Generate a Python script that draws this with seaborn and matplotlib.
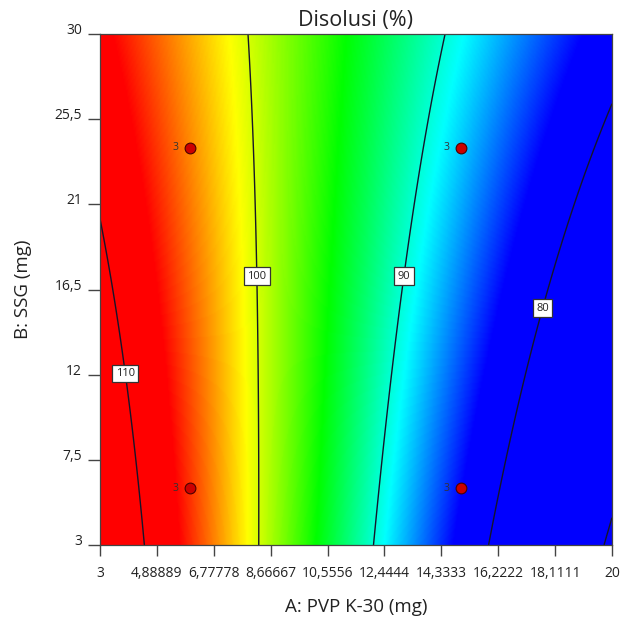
import numpy as np
import pandas as pd
import matplotlib
matplotlib.use("Agg")
import matplotlib.pyplot as plt
from matplotlib.colors import LinearSegmentedColormap, Normalize
import seaborn as sns

# ---- data ----
title = "Disolusi (%)"
x_label = "A: PVP K-30 (mg)"
y_label = "B: SSG (mg)"

x_ticks = [3, 4.88889, 6.77778, 8.66667, 10.5556, 12.4444, 14.3333, 16.2222, 18.1111, 20]
x_tick_labels = ["3", "4,88889", "6,77778", "8,66667", "10,5556", "12,4444",
                 "14,3333", "16,2222", "18,1111", "20"]
y_ticks = [3, 7.5, 12, 16.5, 21, 25.5, 30]
y_tick_labels = ["3", "7,5", "12", "16,5", "21", "25,5", "30"]

# points traced along the contour lines of the response surface
trace_level = [110, 110, 110, 100, 100, 100, 90, 90, 90, 90, 80, 80, 80, 80, 70, 70]
trace_x = [4.49, 3.86, 3.00, 8.26, 8.24, 7.93, 12.06, 13.05, 13.27, 14.43,
           15.86, 17.38, 17.92, 20.00, 19.83, 20.00]
trace_y = [3.0, 12.1, 19.75, 3.0, 17.3, 30.0, 3.0, 16.47, 18.59, 30.0,
           3.0, 13.83, 17.0, 26.25, 3.0, 4.7]

contour_levels = [70, 80, 90, 100, 110]
label_levels = [80, 90, 100, 110]
label_x = [17.62, 13.03, 8.20, 3.86]
label_y = [15.53, 17.2, 17.2, 12.1]

# design points
pt_x = [6, 6, 15, 15]
pt_y = [6, 24, 6, 24]
pt_n = ["3", "3", "3", "3"]

# colour scale anchors (response value -> colour)
color_vals = [83, 89, 95, 101, 107]
color_list = ["#0000ff", "#00ffff", "#00ff00", "#ffff00", "#ff0000"]

# ---- surface: quadratic fit through the traced contour points ----
tx = np.array(trace_x); ty = np.array(trace_y); tl = np.array(trace_level, float)
def basis(x, y):
    return np.stack([np.ones_like(x), x, y, x * y, x ** 2, y ** 2], axis=-1)
coef, *_ = np.linalg.lstsq(basis(tx, ty), tl, rcond=None)

gx = np.linspace(3, 20, 400)
gy = np.linspace(3, 30, 400)
GX, GY = np.meshgrid(gx, gy)
Z = basis(GX, GY) @ coef

# ---- plotting ----
sns.set_style("white")
plt.rcParams["font.family"] = ["Open Sans", "DejaVu Sans"]
txt = "#222222"

fig = plt.figure(figsize=(6.24, 6.27), dpi=100)
ax = fig.add_axes([100 / 624, 82 / 627, 512 / 624, 511 / 627])

lo, hi = color_vals[0], color_vals[-1]
cmap = LinearSegmentedColormap.from_list(
    "de", [((v - lo) / (hi - lo), c) for v, c in zip(color_vals, color_list)])
ax.imshow(Z, extent=[3, 20, 3, 30], origin="lower", aspect="auto",
          cmap=cmap, norm=Normalize(lo, hi), interpolation="bilinear")

cs = ax.contour(GX, GY, Z, levels=contour_levels, colors="#15152a", linewidths=1.0)

# labels placed on the drawn contour nearest to the reference label spots
for lev, lx, ly in zip(label_levels, label_x, label_y):
    idx = list(cs.levels).index(lev)
    segs = [s for s in cs.allsegs[idx] if len(s)]
    best = None
    for s in segs:
        d = (s[:, 0] - lx) ** 2 + ((s[:, 1] - ly) * 17 / 27) ** 2
        i = int(np.argmin(d))
        if best is None or d[i] < best[0]:
            best = (d[i], s[i])
    px, py = best[1]
    ax.text(px, py, f"{lev}", ha="center", va="center", fontsize=8, color=txt,
            zorder=6, bbox=dict(boxstyle="square,pad=0.3", fc="white",
                                ec="#333333", lw=0.9))

df = pd.DataFrame({"x": pt_x, "y": pt_y, "n": pt_n})
sns.scatterplot(data=df, x="x", y="y", ax=ax, s=60, color="#cc0000",
                edgecolor="#4a0000", linewidth=0.8, zorder=5, legend=False)
for xi, yi, ni in zip(pt_x, pt_y, pt_n):
    ax.annotate(ni, (xi, yi), xytext=(-10.5, 0), textcoords="offset points",
                ha="center", va="center", fontsize=7.5, color="#333333")

ax.set_xlim(3, 20)
ax.set_ylim(3, 30)
ax.set_xticks(x_ticks)
ax.set_xticklabels(x_tick_labels)
ax.set_yticks(y_ticks)
ax.set_yticklabels(y_tick_labels, va="baseline")
ax.tick_params(axis="x", direction="out", length=8, width=1, color="#444444",
               labelsize=10, labelcolor=txt, pad=7, bottom=True)
ax.tick_params(axis="y", direction="out", length=9, width=1, color="#444444",
               labelsize=10, labelcolor=txt, pad=4, left=True)
for s in ax.spines.values():
    s.set_color("#444444")
    s.set_linewidth(0.9)

ax.set_title(title, fontsize=15.5, color=txt, pad=6)
ax.set_xlabel(x_label, fontsize=13.5, color=txt, labelpad=12)
ax.set_ylabel(y_label, fontsize=13.5, color=txt, labelpad=16)

fig.savefig("out.png", dpi=100, facecolor="white")
